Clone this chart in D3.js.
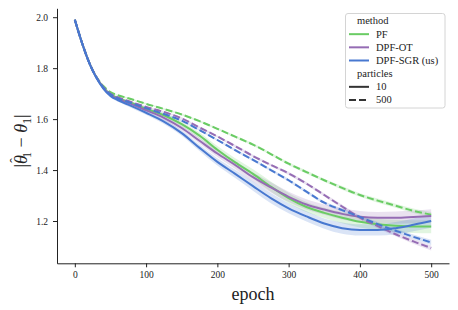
<!DOCTYPE html>
<html>
<head>
<meta charset="utf-8">
<script src="https://cdn.jsdelivr.net/npm/d3@7"></script>
<style>
  body { margin: 0; background: #fff; }
  svg { display: block; }
  text { font-family: "Liberation Serif", "DejaVu Serif", serif; fill: #222; }
</style>
</head>
<body>
<div id="GraphHolder"></div>
<script>
// epochs at which the curves were read
var epochs = [0, 10, 20, 30, 40, 50, 60, 75, 100, 125, 150, 175, 200, 225, 250, 275, 300, 325, 350, 375, 400, 425, 450, 475, 500];

// mean error per method / particle count
var pf10   = [1.99, 1.90, 1.823, 1.765, 1.725, 1.697, 1.683, 1.668, 1.64, 1.615, 1.58, 1.535, 1.48, 1.43, 1.385, 1.335, 1.29, 1.255, 1.232, 1.213, 1.197, 1.187, 1.181, 1.178, 1.178];
var pf500  = [1.99, 1.90, 1.824, 1.767, 1.73, 1.706, 1.694, 1.682, 1.66, 1.64, 1.618, 1.592, 1.562, 1.531, 1.50, 1.463, 1.425, 1.392, 1.36, 1.33, 1.302, 1.28, 1.26, 1.24, 1.225];
var ot10   = [1.99, 1.90, 1.823, 1.765, 1.724, 1.695, 1.68, 1.664, 1.635, 1.605, 1.565, 1.515, 1.465, 1.42, 1.372, 1.332, 1.295, 1.265, 1.245, 1.228, 1.217, 1.213, 1.213, 1.216, 1.22];
var ot500  = [1.99, 1.90, 1.823, 1.766, 1.726, 1.699, 1.686, 1.671, 1.648, 1.628, 1.603, 1.567, 1.532, 1.494, 1.455, 1.42, 1.387, 1.347, 1.302, 1.257, 1.213, 1.18, 1.148, 1.12, 1.094];
var sgr10  = [1.99, 1.90, 1.822, 1.763, 1.72, 1.691, 1.675, 1.657, 1.625, 1.59, 1.545, 1.487, 1.432, 1.385, 1.337, 1.29, 1.25, 1.218, 1.19, 1.172, 1.165, 1.165, 1.172, 1.185, 1.20];
var sgr500 = [1.99, 1.90, 1.823, 1.765, 1.724, 1.697, 1.682, 1.667, 1.643, 1.62, 1.594, 1.557, 1.518, 1.478, 1.44, 1.40, 1.36, 1.315, 1.272, 1.243, 1.216, 1.188, 1.162, 1.138, 1.116];

// half width of the shaded band
var spread10  = [0, 0.002, 0.003, 0.004, 0.005, 0.006, 0.006, 0.007, 0.008, 0.009, 0.010, 0.012, 0.014, 0.016, 0.018, 0.02, 0.02, 0.02, 0.02, 0.022, 0.022, 0.022, 0.024, 0.025, 0.026];
var spread500 = [0, 0.001, 0.001, 0.002, 0.002, 0.002, 0.002, 0.003, 0.003, 0.003, 0.004, 0.004, 0.004, 0.005, 0.005, 0.005, 0.006, 0.006, 0.006, 0.007, 0.007, 0.008, 0.008, 0.009, 0.010];

var methods = ["PF", "DPF-OT", "DPF-SGR (us)"];
var particles = ["10", "500"];
var colors = ["#6acc64", "#956cb4", "#4878d0"];
var xTicks = [0, 100, 200, 300, 400, 500];
var yTicks = [1.2, 1.4, 1.6, 1.8, 2.0];

// draw order follows seaborn: hue then style
var series = [
  {m: 0, p: 0, v: pf10,  s: spread10},
  {m: 0, p: 1, v: pf500, s: spread500},
  {m: 1, p: 0, v: ot10,  s: spread10},
  {m: 1, p: 1, v: ot500, s: spread500},
  {m: 2, p: 0, v: sgr10, s: spread10},
  {m: 2, p: 1, v: sgr500, s: spread500}
];

var W = 458, H = 310;
var plot = {left: 57, right: 449, top: 8.3, bottom: 263.3};

var svg = d3.select("#GraphHolder").append("svg")
    .attr("width", W)
    .attr("height", H);

var x = d3.scaleLinear().domain([-25, 525]).range([plot.left, plot.right]);
var y = d3.scaleLinear().domain([1.034, 2.035]).range([plot.bottom, plot.top]);

var area = d3.area()
    .curve(d3.curveMonotoneX)
    .x(function(d) { return x(d.e); })
    .y0(function(d) { return y(d.v - d.s); })
    .y1(function(d) { return y(d.v + d.s); });
var line = d3.line()
    .curve(d3.curveMonotoneX)
    .x(function(d) { return x(d.e); })
    .y(function(d) { return y(d.v); });

// bands first, then lines
series.forEach(function(sr) {
  var pts = epochs.map(function(e, i) { return {e: e, v: sr.v[i], s: sr.s[i]}; });
  svg.append("path")
      .datum(pts)
      .attr("d", area)
      .attr("fill", colors[sr.m])
      .attr("fill-opacity", 0.2)
      .attr("stroke", "none");
});
series.forEach(function(sr) {
  var pts = epochs.map(function(e, i) { return {e: e, v: sr.v[i]}; });
  svg.append("path")
      .datum(pts)
      .attr("d", line)
      .attr("fill", "none")
      .attr("stroke", colors[sr.m])
      .attr("stroke-width", 2)
      .attr("stroke-dasharray", sr.p === 1 ? "7,3" : null);
});

// axes
var xAxis = d3.axisBottom(x).tickValues(xTicks).tickSizeInner(4).tickSizeOuter(0).tickPadding(4);
var yAxis = d3.axisLeft(y).tickValues(yTicks).tickFormat(d3.format(".1f")).tickSizeInner(4).tickSizeOuter(0).tickPadding(5);

var gx = svg.append("g")
    .attr("transform", "translate(0," + plot.bottom + ")")
    .call(xAxis);
var gy = svg.append("g")
    .attr("transform", "translate(" + plot.left + ",0)")
    .call(yAxis);

[gx, gy].forEach(function(g) {
  g.select(".domain").attr("stroke", "#222").attr("stroke-width", 1);
  g.selectAll(".tick line").attr("stroke", "#222").attr("stroke-width", 1);
  g.selectAll(".tick text")
      .style("font-family", '"Liberation Serif", serif')
      .style("font-size", "9.5px")
      .attr("fill", "#222");
});

// axis labels
svg.append("text")
    .attr("x", (plot.left + plot.right) / 2)
    .attr("y", 300)
    .attr("text-anchor", "middle")
    .style("font-size", "18px")
    .text("epoch");

// |theta-hat_1 - theta_1|, hat placed over the theta by hand
var yl = svg.append("text")
    .attr("transform", "translate(27,141) rotate(-90)")
    .attr("text-anchor", "middle")
    .style("font-size", "18px");
yl.append("tspan").text("|");
yl.append("tspan").style("font-style", "italic").text("\u03B8");
yl.append("tspan").attr("dx", -7.5).attr("dy", -7).style("font-size", "14px").text("\u02C6");
yl.append("tspan").attr("dx", 0).attr("dy", 11).style("font-size", "12px").text("1");
yl.append("tspan").attr("dy", -4).text(" \u2212 ");
yl.append("tspan").style("font-style", "italic").text("\u03B8");
yl.append("tspan").attr("dy", 4).style("font-size", "12px").text("1");
yl.append("tspan").attr("dy", -4).text("|");

// legend
var lg = svg.append("g");
lg.append("rect")
    .attr("x", 345.5).attr("y", 13.5)
    .attr("width", 99.5).attr("height", 94.5)
    .attr("rx", 2.5)
    .attr("fill", "#fff").attr("fill-opacity", 0.8)
    .attr("stroke", "#d4d4d4").attr("stroke-width", 1);

var rows = [
  {label: "method", title: true},
  {label: methods[0], color: colors[0]},
  {label: methods[1], color: colors[1]},
  {label: methods[2], color: colors[2]},
  {label: "particles", title: true},
  {label: particles[0], color: "#333"},
  {label: particles[1], color: "#333", dash: true}
];
var rowY = d3.scaleLinear().domain([0, 6]).range([21, 100]);

rows.forEach(function(r, i) {
  var cy = rowY(i);
  if (r.title) {
    lg.append("text")
        .attr("x", 357).attr("y", cy + 3.4)
        .style("font-size", "10.5px")
        .text(r.label);
    return;
  }
  lg.append("line")
      .attr("x1", 349).attr("x2", 369)
      .attr("y1", cy).attr("y2", cy)
      .attr("stroke", r.color)
      .attr("stroke-width", 2)
      .attr("stroke-dasharray", r.dash ? "7,3" : null);
  lg.append("text")
      .attr("x", 376).attr("y", cy + 3.4)
      .style("font-size", "10.5px")
      .text(r.label);
});
</script>
</body>
</html>
